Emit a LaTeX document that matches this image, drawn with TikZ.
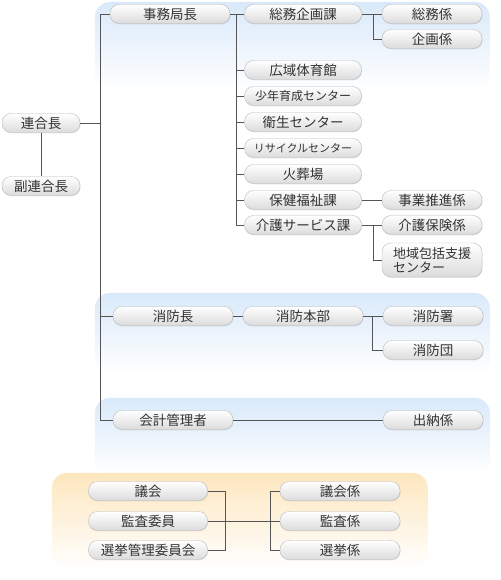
\documentclass[tikz,border=0pt]{standalone}
\usepackage{fontspec}
\setmainfont{Noto Sans CJK JP}
\usetikzlibrary{shadows,fadings}
\definecolor{paleblue}{HTML}{D9E9FA}
\definecolor{paleorange}{HTML}{FDE6BE}
\definecolor{linegray}{HTML}{555555}

\begin{document}
\begin{tikzpicture}[x=1pt,y=-1pt,
		post/.style={draw=gray!55,rounded corners=9pt,top color=white,bottom color=gray!28,minimum height=19pt,inner sep=0pt,text=black!80,font=\fontsize{13.5}{15}\selectfont,drop shadow={opacity=0.2,shadow xshift=0.6pt,shadow yshift=-0.8pt}},
		wide/.style={post,minimum width=120pt},
		mid/.style={post,minimum width=117pt},
		narrow/.style={post,minimum width=100pt},
		band/.style={rounded corners=15pt,path fading=south},
		link/.style={draw=linegray,line width=0.8pt}]
		\useasboundingbox (0,0) rectangle (500,580);
		\fill[paleblue,band] (95,2) rectangle (490,90);
		\fill[paleblue,band] (95,293) rectangle (490,375);
		\fill[paleblue,band] (95,398) rectangle (490,475);
		\fill[paleorange,band] (52,473) rectangle (428,568);

		\node[post,minimum width=78pt] (rengo) at (41,123) {連合長};
		\node[post,minimum width=78pt] (fuku) at (41,186) {副連合長};
		\node[wide] (jimu) at (170,14) {事務局長};
		\node[mid] (soumu) at (303,14) {総務企画課};
		\node[narrow] (soumukakari) at (432,14) {総務係};
		\node[narrow] (kikaku) at (432,39) {企画係};
		\node[mid] (kouiki) at (303,70) {広域体育館};
		\node[mid,font=\fontsize{12}{14}\selectfont] (shonen) at (303,96) {少年育成センター};
		\node[mid] (eisei) at (303,122) {衛生センター};
		\node[mid,font=\fontsize{11}{13}\selectfont] (recycle) at (303,148) {リサイクルセンター};
		\node[mid] (kasou) at (303,174) {火葬場};
		\node[mid] (hoken) at (303,200) {保健福祉課};
		\node[mid] (kaigo) at (303,225) {介護サービス課};
		\node[narrow] (jigyo) at (432,200) {事業推進係};
		\node[narrow] (kaigohoken) at (432,225) {介護保険係};
		\node[narrow,minimum height=34pt,align=left,font=\fontsize{13}{14}\selectfont] (chiiki) at (432,260) {地域包括支援\\センター};

		\node[wide] (shobo) at (173,316) {消防長};
		\node[wide] (honbu) at (303,316) {消防本部};
		\node[narrow] (sho) at (433,316) {消防署};
		\node[narrow] (dan) at (433,350) {消防団};
		\node[wide] (kaikei) at (173,420) {会計管理者};
		\node[narrow] (suito) at (433,420) {出納係};

		\node[post,minimum width=119pt] (gikai) at (148,491) {議会};
		\node[post,minimum width=119pt] (kansa) at (148,521) {監査委員};
		\node[post,minimum width=119pt] (senkan) at (148,550) {選挙管理委員会};
		\node[wide] (gikaikakari) at (340,491) {議会係};
		\node[wide] (kansakakari) at (340,521) {監査係};
		\node[wide] (senkyokakari) at (340,550) {選挙係};

		\coordinate (trunk) at (100,0);
		\coordinate (branch) at (236,0);
		\coordinate (fork) at (373,0);
		\coordinate (firefork) at (372,0);
		\coordinate (leftbar) at (225,0);
		\coordinate (rightbar) at (270,0);

		\draw[link] (rengo.south) -- (fuku.north);
		\draw[link] (rengo.east) -- (trunk |- rengo);
		\draw[link] (jimu.west) -| (trunk |- kaikei) -- (kaikei.west);
		\draw[link] (shobo.west) -- (trunk |- shobo);
		\draw[link] (jimu.east) -- (soumu.west);
		\draw[link] (branch |- jimu) |- (kaigo.west);
		\foreach \n in {kouiki,shonen,eisei,recycle,kasou,hoken}
			\draw[link] (branch |- \n) -- (\n.west);
		\draw[link] (soumu.east) -- (soumukakari.west);
		\draw[link] (fork |- soumu) |- (kikaku.west);
		\draw[link] (hoken.east) -- (jigyo.west);
		\draw[link] (kaigo.east) -- (kaigohoken.west);
		\draw[link] (fork |- kaigo) |- (chiiki.west);
		\draw[link] (shobo.east) -- (honbu.west);
		\draw[link] (honbu.east) -- (sho.west);
		\draw[link] (firefork |- honbu) |- (dan.west);
		\draw[link] (kaikei.east) -- (suito.west);
		\draw[link] (gikai.east) -| (leftbar |- senkan) -- (senkan.east);
		\draw[link] (kansa.east) -- (kansakakari.west);
		\draw[link] (gikaikakari.west) -| (rightbar |- senkyokakari) -- (senkyokakari.west);
	\end{tikzpicture}
\end{document}
